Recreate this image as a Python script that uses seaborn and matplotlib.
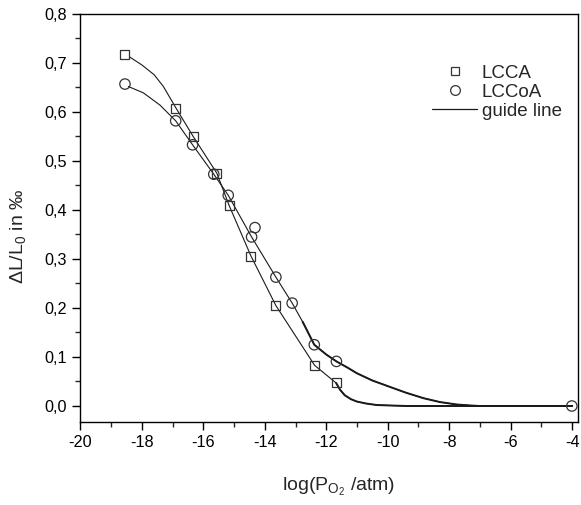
import matplotlib
matplotlib.use("Agg")
import matplotlib.pyplot as plt
import seaborn as sns
import pandas as pd
from matplotlib.lines import Line2D
from matplotlib.ticker import MultipleLocator, FuncFormatter

# --- data ---
lcca_x = [-18.55, -16.89, -16.33, -15.56, -15.16, -14.45, -13.64, -12.38, -11.68]
lcca_y = [0.718, 0.608, 0.550, 0.475, 0.409, 0.306, 0.205, 0.083, 0.047]

lccoa_x = [-18.55, -16.90, -16.35, -15.66, -15.19, -14.32, -14.43, -13.64, -13.11, -12.39, -11.67, -4.01]
lccoa_y = [0.657, 0.582, 0.533, 0.473, 0.430, 0.364, 0.345, 0.263, 0.210, 0.125, 0.091, 0.000]

# guide lines
guide_a_x = [-18.39, -18.00, -17.60, -17.30, -16.89, -16.33, -15.56, -15.16, -14.45, -13.64, -12.38,
             -11.68, -11.55, -11.40, -11.20, -11.00, -10.70, -10.36, -9.90, -9.38, -4.0]
guide_a_y = [0.712, 0.696, 0.676, 0.652, 0.608, 0.550, 0.475, 0.409, 0.306, 0.205, 0.083,
             0.047, 0.033, 0.022, 0.014, 0.009, 0.005, 0.002, 0.001, 0.000, 0.000]
guide_a_tail = 11  # index where the heavier tail begins

guide_b_x = [-18.44, -17.95, -17.41, -16.90, -16.35, -15.66, -15.19, -14.43, -13.64, -13.11,
             -12.77, -12.39, -12.00, -11.67, -11.30, -11.01, -10.50, -9.93, -9.40, -8.84, -8.30,
             -7.75, -7.30, -7.00, -4.0]
guide_b_y = [0.652, 0.639, 0.614, 0.582, 0.533, 0.473, 0.430, 0.345, 0.263, 0.210,
             0.172, 0.125, 0.105, 0.091, 0.078, 0.067, 0.052, 0.039, 0.027, 0.016, 0.008,
             0.003, 0.001, 0.000, 0.000]
guide_b_tail = 10

xticks = [-20, -18, -16, -14, -12, -10, -8, -6, -4]
yticks = [0.0, 0.1, 0.2, 0.3, 0.4, 0.5, 0.6, 0.7, 0.8]

sns.set_theme(style="ticks")
plt.rcParams['font.family'] = ['Liberation Sans', 'DejaVu Sans']
plt.rcParams['mathtext.fontset'] = 'custom'
plt.rcParams['mathtext.rm'] = 'Liberation Sans'
plt.rcParams['mathtext.it'] = 'Liberation Sans'

fig = plt.figure(figsize=(5.81, 5.05), dpi=100)
ax = fig.add_axes([0.1384, 0.165, 0.8564, 0.8073])

lc = "#1a1a1a"
ga = pd.DataFrame({"x": guide_a_x, "y": guide_a_y})
gb = pd.DataFrame({"x": guide_b_x, "y": guide_b_y})
sns.lineplot(data=ga, x="x", y="y", sort=False, estimator=None, color=lc, lw=0.8, ax=ax)
sns.lineplot(data=ga.iloc[guide_a_tail:], x="x", y="y", sort=False, estimator=None, color=lc, lw=1.4, ax=ax)
sns.lineplot(data=gb, x="x", y="y", sort=False, estimator=None, color=lc, lw=0.8, ax=ax)
sns.lineplot(data=gb.iloc[guide_b_tail:], x="x", y="y", sort=False, estimator=None, color=lc, lw=1.4, ax=ax)

sns.scatterplot(x=lcca_x, y=lcca_y, marker="s", s=42, facecolor="none", edgecolor="#333333",
                linewidth=0.9, ax=ax, zorder=3)
sns.scatterplot(x=lccoa_x, y=lccoa_y, marker="o", s=56, facecolor="none", edgecolor="#333333",
                linewidth=0.9, ax=ax, zorder=3)

ax.set_xlim(-20, -3.81)
ax.set_ylim(-0.032, 0.8)
ax.set_xticks(xticks)
ax.set_yticks(yticks)
ax.xaxis.set_minor_locator(MultipleLocator(1))
ax.yaxis.set_minor_locator(MultipleLocator(0.05))
ax.yaxis.set_major_formatter(FuncFormatter(lambda v, p: f"{v:.1f}".replace(".", ",")))
ax.xaxis.set_major_formatter(FuncFormatter(lambda v, p: f"{int(round(v))}"))
ax.tick_params(which="major", direction="out", length=6, width=1.0, labelsize=11.7, colors="black")
ax.tick_params(which="minor", direction="out", length=3.5, width=1.0)
for s in ax.spines.values():
    s.set_linewidth(1.0)
    s.set_color("black")

ax.set_xlabel(r"log(P$_{\mathregular{O_2}}$ /atm)", fontsize=14)
ax.xaxis.set_label_coords(0.518, -0.16)
ax.xaxis.label.set_va("center")
ax.set_ylabel(r"$\Delta$L/L$_{\mathregular{0}}$ in ‰", fontsize=14)
ax.yaxis.set_label_coords(-0.125, 0.455)
ax.yaxis.label.set_va("center")

handles = [
    Line2D([], [], marker="s", ls="none", mfc="none", mec="#333333", ms=6.0, mew=0.9),
    Line2D([], [], marker="o", ls="none", mfc="none", mec="#333333", ms=7.0, mew=0.9),
    Line2D([], [], color=lc, lw=0.9),
]
ax.legend(handles, ["LCCA", "LCCoA", "guide line"], loc="upper left",
          bbox_to_anchor=(0.692, 0.8945), frameon=False, fontsize=13.5, handlelength=2.4,
          handletextpad=0.25, labelspacing=0.1, borderaxespad=0.0, borderpad=0.4)

fig.savefig("out.png", dpi=100)
